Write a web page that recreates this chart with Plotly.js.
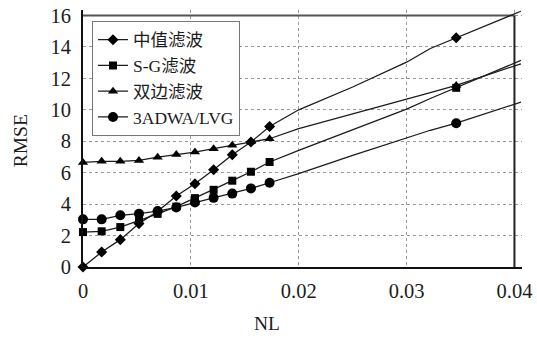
<!DOCTYPE html>
<html>
<head>
<meta charset="utf-8">
<script src="https://cdn.plot.ly/plotly-3.0.1.min.js"></script>
<style>
html,body{margin:0;padding:0;background:#fff;}
#chart{width:537px;height:338px;}
</style>
</head>
<body>
<div id="chart"></div>
<script>
// Names of the series
const seriesNames = ['中值滤波', 'S-G滤波', '双边滤波', '3ADWA/LVG'];

// NL values where markers are drawn
const markerNL = [0, 0.00173, 0.00346, 0.00519, 0.00692, 0.00865, 0.01038, 0.01211, 0.01384, 0.01557, 0.0173, 0.0346];

// Marker RMSE values
const medianMk = [0, 0.95, 1.74, 2.76, 3.55, 4.52, 5.3, 6.19, 7.14, 7.95, 8.94, 14.58];
const sgMk = [2.22, 2.27, 2.54, 2.95, 3.38, 3.84, 4.38, 4.91, 5.49, 6.06, 6.68, 11.4];
const bilateralMk = [6.65, 6.72, 6.72, 6.78, 6.99, 7.15, 7.31, 7.53, 7.74, 7.99, 8.16, 11.55];
const adwaMk = [3.03, 3.03, 3.29, 3.39, 3.56, 3.79, 4.1, 4.4, 4.67, 5.0, 5.36, 9.15];

// NL values of the full curves
const lineNL = [0, 0.00173, 0.00346, 0.00519, 0.00692, 0.00865, 0.01038, 0.01211, 0.01384, 0.01557, 0.0173, 0.0200, 0.0250, 0.0300, 0.0322, 0.0346, 0.0406];

// Curve RMSE values
const medianLine = [0, 0.95, 1.74, 2.76, 3.55, 4.52, 5.3, 6.19, 7.14, 7.95, 8.94, 10.0, 11.45, 13.03, 13.9, 14.58, 16.27];
const sgLine = [2.22, 2.27, 2.54, 2.95, 3.38, 3.84, 4.38, 4.91, 5.49, 6.06, 6.68, 7.42, 8.75, 10.05, 10.72, 11.4, 13.14];
const bilateralLine = [6.65, 6.72, 6.72, 6.78, 6.99, 7.15, 7.31, 7.53, 7.74, 7.99, 8.16, 8.8, 9.72, 10.68, 11.1, 11.55, 12.93];
const adwaLine = [3.03, 3.03, 3.29, 3.39, 3.56, 3.79, 4.1, 4.4, 4.67, 5.0, 5.36, 5.94, 7.1, 8.22, 8.7, 9.15, 10.49];

// Axis ticks
const xTickVals = [0, 0.01, 0.02, 0.03, 0.04];
const xTickText = ['0', '0.01', '0.02', '0.03', '0.04'];
const yTickVals = [0, 2, 4, 6, 8, 10, 12, 14, 16];
const yTickText = ['0', '2', '4', '6', '8', '10', '12', '14', '16'];

const symbols = ['diamond', 'square', 'triangle-up', 'circle'];
const sizes = [8.5, 8, 9, 10];
const mkData = [medianMk, sgMk, bilateralMk, adwaMk];
const lnData = [medianLine, sgLine, bilateralLine, adwaLine];

const ink = '#1c1c1c';
const serif = 'Liberation Serif, Times New Roman, Noto Sans CJK SC, serif';

const traces = [];
for (let i = 0; i < 4; i++) {
  traces.push({
    x: lineNL, y: lnData[i], mode: 'lines', type: 'scatter',
    line: {color: ink, width: 1.3}, showlegend: false, hoverinfo: 'skip'
  });
  traces.push({
    x: markerNL, y: mkData[i], mode: 'markers', type: 'scatter',
    marker: {symbol: symbols[i], size: sizes[i], color: '#000'},
    showlegend: false, cliponaxis: false
  });
}
for (let i = 0; i < 4; i++) {
  traces.push({
    x: [null], y: [null], mode: 'lines+markers', type: 'scatter', name: seriesNames[i],
    line: {color: ink, width: 1.3},
    marker: {symbol: symbols[i], size: sizes[i], color: '#000'}
  });
}

const layout = {
  width: 537, height: 338,
  margin: {l: 83, r: 15, t: 9.5, b: 71.3},
  paper_bgcolor: '#fff', plot_bgcolor: '#fff',
  font: {family: serif, color: ink, size: 19},
  showlegend: true,
  legend: {
    x: 0.0205, y: 0.958, xanchor: 'left', yanchor: 'top',
    bgcolor: '#fff', bordercolor: '#777', borderwidth: 1,
    font: {family: serif, size: 17.5, color: ink},
    itemwidth: 30, tracegroupgap: 0
  },
  xaxis: {
    range: [0, 0.0407], tickvals: xTickVals, ticktext: xTickText,
    showgrid: true, gridcolor: '#9a9a9a', griddash: 'dot', gridwidth: 1,
    zeroline: false, showline: true, linecolor: '#111', linewidth: 2,
    ticks: '', ticklabelstandoff: 4,
    tickfont: {family: serif, size: 20.5, color: ink}
  },
  yaxis: {
    range: [0, 16.35], tickvals: yTickVals, ticktext: yTickText,
    showgrid: true, gridcolor: '#9a9a9a', griddash: 'dot', gridwidth: 1,
    zeroline: false, showline: true, linecolor: '#111', linewidth: 2,
    ticks: '', ticklabelstandoff: 6,
    tickfont: {family: serif, size: 20.5, color: ink}
  },
  shapes: [
    {type: 'line', xref: 'x', yref: 'y', x0: 0, x1: 0.04, y0: 16, y1: 16, line: {color: '#555', width: 2}, layer: 'between'},
    {type: 'line', xref: 'x', yref: 'y', x0: 0.04, x1: 0.04, y0: 0, y1: 16, line: {color: '#222', width: 2}, layer: 'between'}
  ],
  annotations: [
    {text: 'RMSE', xref: 'paper', yref: 'paper', x: -0.143, y: 0.49, xanchor: 'center', yanchor: 'middle', textangle: -90, showarrow: false, font: {family: serif, size: 19.5, color: ink}},
    {text: 'NL', xref: 'paper', yref: 'paper', x: 0.42, y: -0.22, xanchor: 'center', yanchor: 'middle', showarrow: false, font: {family: serif, size: 19.5, color: ink}}
  ]
};

Plotly.newPlot('chart', traces, layout, {displayModeBar: false, staticPlot: true});
</script>
</body>
</html>
